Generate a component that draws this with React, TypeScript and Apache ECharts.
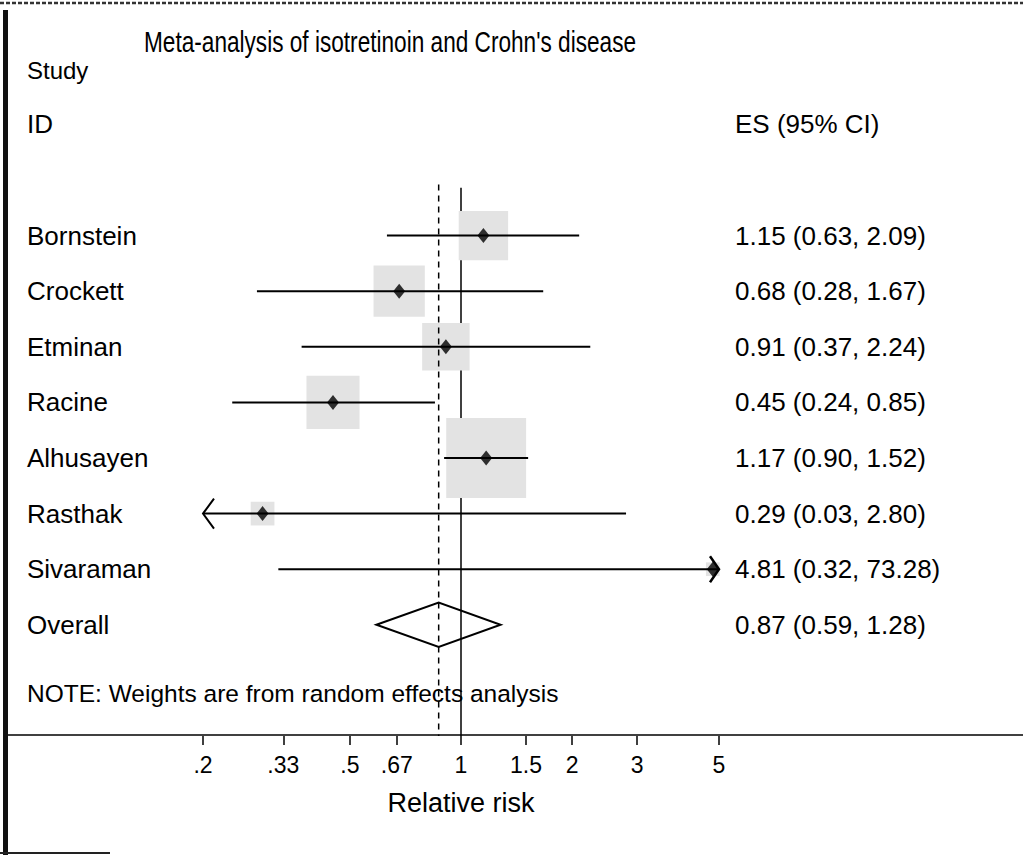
import React, { useEffect, useRef } from 'react';
import * as echarts from 'echarts';

// ---------- data ----------
const studies = ['Bornstein', 'Crockett', 'Etminan', 'Racine', 'Alhusayen', 'Rasthak', 'Sivaraman'];
const estimates = [1.15, 0.68, 0.91, 0.45, 1.17, 0.29, 4.81];
const lowerCI = [0.63, 0.28, 0.37, 0.24, 0.9, 0.03, 0.32];
const upperCI = [2.09, 1.67, 2.24, 0.85, 1.52, 2.8, 73.28];
// relative box weights (%)
const weights = [13, 14, 12, 15, 34, 3, 1];
const overallLabel = 'Overall';
const overallES = 0.87;
const overallLower = 0.59;
const overallUpper = 1.28;
const xTickValues = [0.2, 0.33, 0.5, 0.67, 1, 1.5, 2, 3, 5];
const xTickLabels = ['.2', '.33', '.5', '.67', '1', '1.5', '2', '3', '5'];
const axisMin = 0.2;
const axisMax = 5;
const titleText = "Meta-analysis of isotretinoin and Crohn's disease";
const noteText = 'NOTE: Weights are from random effects analysis';
const xAxisTitle = 'Relative risk';

const FONT = '"Liberation Sans", Arial, Helvetica, sans-serif';

const fmt = (v: number) => v.toFixed(2);

export default function App() {
  const ref = useRef<HTMLDivElement>(null);

  useEffect(() => {
    if (!ref.current) return;
    const chart = echarts.init(ref.current, null, { renderer: 'svg' });
    const ln = Math.log;
    const overallRow = studies.length + 1;

    const ciData = studies.map((_, i) => {
      const lo = Math.max(lowerCI[i], axisMin);
      const hi = Math.min(upperCI[i], axisMax);
      return [ln(lo), ln(hi), i + 1, lowerCI[i] < axisMin ? 1 : 0, upperCI[i] > axisMax ? 1 : 0];
    });
    const boxData = studies.map((_, i) => [ln(estimates[i]), i + 1, weights[i]]);
    const pointData = studies.map((_, i) => [ln(Math.min(estimates[i], axisMax)), i + 1]);
    const rightLabels = studies.map((_, i) => `${fmt(estimates[i])} (${fmt(lowerCI[i])}, ${fmt(upperCI[i])})`);
    rightLabels.push(`${fmt(overallES)} (${fmt(overallLower)}, ${fmt(overallUpper)})`);
    const leftLabels = [...studies, overallLabel];

    const tickLn = xTickValues.map((v) => ln(v));
    const xLabelFor = (val: number) => {
      let best = 0;
      let bd = Infinity;
      tickLn.forEach((t, i) => {
        const d = Math.abs(t - val);
        if (d < bd) { bd = d; best = i; }
      });
      return xTickLabels[best];
    };

    const yAxisBase = {
      type: 'value',
      min: 0,
      max: 10,
      interval: 1,
      inverse: true,
      axisLine: { show: false },
      axisTick: { show: false },
      splitLine: { show: false },
    };

    const option: any = {
      animation: false,
      backgroundColor: '#ffffff',
      grid: { left: 203, width: 516, top: 180, height: 556, containLabel: false, outerBoundsMode: 'none' },
      xAxis: {
        type: 'value',
        min: ln(axisMin),
        max: ln(axisMax),
        axisLine: { show: false, onZero: false },
        splitLine: { show: false },
        axisTick: {
          show: true,
          customValues: tickLn,
          length: 9,
          lineStyle: { color: '#000', width: 1.5 },
        },
        axisLabel: {
          customValues: tickLn,
          formatter: (v: number) => xLabelFor(v),
          margin: 17,
          fontSize: 23,
          fontFamily: FONT,
          color: '#000',
        },
        name: xAxisTitle,
        nameLocation: 'middle',
        nameGap: 53,
        nameTextStyle: { fontSize: 27, fontFamily: FONT, color: '#000' },
      },
      yAxis: [
        {
          ...yAxisBase,
          position: 'left',
          axisLabel: {
            align: 'left',
            margin: 176,
            fontSize: 26,
            fontFamily: FONT,
            color: '#000',
            formatter: (v: number) => (v >= 1 && v <= leftLabels.length ? leftLabels[v - 1] : ''),
          },
        },
        {
          ...yAxisBase,
          position: 'right',
          axisLabel: {
            align: 'left',
            margin: 16,
            fontSize: 26,
            fontFamily: FONT,
            color: '#000',
            formatter: (v: number) => (v >= 1 && v <= rightLabels.length ? rightLabels[v - 1] : ''),
          },
        },
      ],
      graphic: [
        { type: 'rect', shape: { x: 3, y: 10, width: 5, height: 845 }, style: { fill: '#111' } },
        { type: 'line', shape: { x1: 0, y1: 3, x2: 1023, y2: 3 }, style: { stroke: '#333', lineWidth: 2.5, lineDash: [4, 2] } },
        { type: 'line', shape: { x1: 0, y1: 853, x2: 110, y2: 853 }, style: { stroke: '#222', lineWidth: 2 } },
        { type: 'line', shape: { x1: 8, y1: 735, x2: 1023, y2: 735 }, style: { stroke: '#000', lineWidth: 1.5 } },
        {
          type: 'text',
          x: 144,
          y: 42,
          scaleX: 0.78,
          style: { text: titleText, fontSize: 29, fontFamily: FONT, fill: '#000', verticalAlign: 'middle' },
        },
        { type: 'text', x: 27, y: 70, style: { text: 'Study', fontSize: 24, fontFamily: FONT, fill: '#000', verticalAlign: 'middle' } },
        { type: 'text', x: 27, y: 124, style: { text: 'ID', fontSize: 26, fontFamily: FONT, fill: '#000', verticalAlign: 'middle' } },
        { type: 'text', x: 735, y: 124, style: { text: 'ES (95% CI)', fontSize: 26, fontFamily: FONT, fill: '#000', verticalAlign: 'middle' } },
        { type: 'text', x: 27, y: 693, style: { text: noteText, fontSize: 24.5, fontFamily: FONT, fill: '#000', verticalAlign: 'middle' } },
      ],
      series: [
        {
          type: 'line',
          z: 1,
          data: [[0, 0.14], [0, 10]],
          showSymbol: false,
          lineStyle: { color: '#000', width: 1.5 },
          silent: true,
        },
        {
          type: 'scatter',
          z: 2,
          data: boxData,
          symbol: 'rect',
          symbolSize: (val: number[]) => Math.sqrt(val[2]) * 13.7,
          itemStyle: { color: '#e3e3e3', opacity: 1 },
          silent: true,
        },
        {
          type: 'line',
          z: 3,
          data: [[ln(overallES), 0.08], [ln(overallES), 10]],
          showSymbol: false,
          lineStyle: { color: '#000', width: 1.5, type: [6, 5] },
          silent: true,
        },
        {
          type: 'custom',
          z: 4,
          data: ciData,
          encode: { x: [0, 1], y: 2 },
          clip: false,
          renderItem: (params: any, api: any) => {
            const lo = api.value(0);
            const hi = api.value(1);
            const y = api.value(2);
            const cl = api.value(3);
            const cr = api.value(4);
            const p1 = api.coord([lo, y]);
            const p2 = api.coord([hi, y]);
            const children: any[] = [
              { type: 'line', shape: { x1: p1[0], y1: p1[1], x2: p2[0], y2: p2[1] }, style: { stroke: '#000', lineWidth: 2 } },
            ];
            if (cl) {
              children.push({
                type: 'polyline',
                shape: { points: [[p1[0] + 11, p1[1] - 15], [p1[0], p1[1]], [p1[0] + 11, p1[1] + 15]] },
                style: { stroke: '#000', lineWidth: 2, fill: null },
              });
            }
            if (cr) {
              children.push({
                type: 'polyline',
                shape: { points: [[p2[0] - 9, p2[1] - 13], [p2[0], p2[1]], [p2[0] - 9, p2[1] + 13]] },
                style: { stroke: '#000', lineWidth: 2.5, fill: null },
              });
            }
            return { type: 'group', children };
          },
        },
        {
          type: 'custom',
          z: 4,
          data: [[ln(overallLower), ln(overallES), ln(overallUpper), overallRow]],
          encode: { x: [0, 1, 2], y: 3 },
          renderItem: (params: any, api: any) => {
            const y = api.value(3);
            const a = api.coord([api.value(0), y]);
            const t = api.coord([api.value(1), y - 0.4]);
            const b = api.coord([api.value(2), y]);
            const u = api.coord([api.value(1), y + 0.4]);
            return {
              type: 'polygon',
              shape: { points: [a, t, b, u] },
              style: { stroke: '#000', lineWidth: 2, fill: 'rgba(0,0,0,0)' },
            };
          },
        },
        {
          type: 'scatter',
          z: 5,
          data: pointData,
          symbol: 'diamond',
          symbolSize: [12, 15],
          itemStyle: { color: '#000' },
          silent: true,
        },
      ],
    };

    chart.setOption(option);
    return () => chart.dispose();
  }, []);

  return (
    <div
      ref={ref}
      style={{ position: 'fixed', left: 0, top: 0, width: 1023, height: 855, background: '#fff' }}
    />
  );
}
